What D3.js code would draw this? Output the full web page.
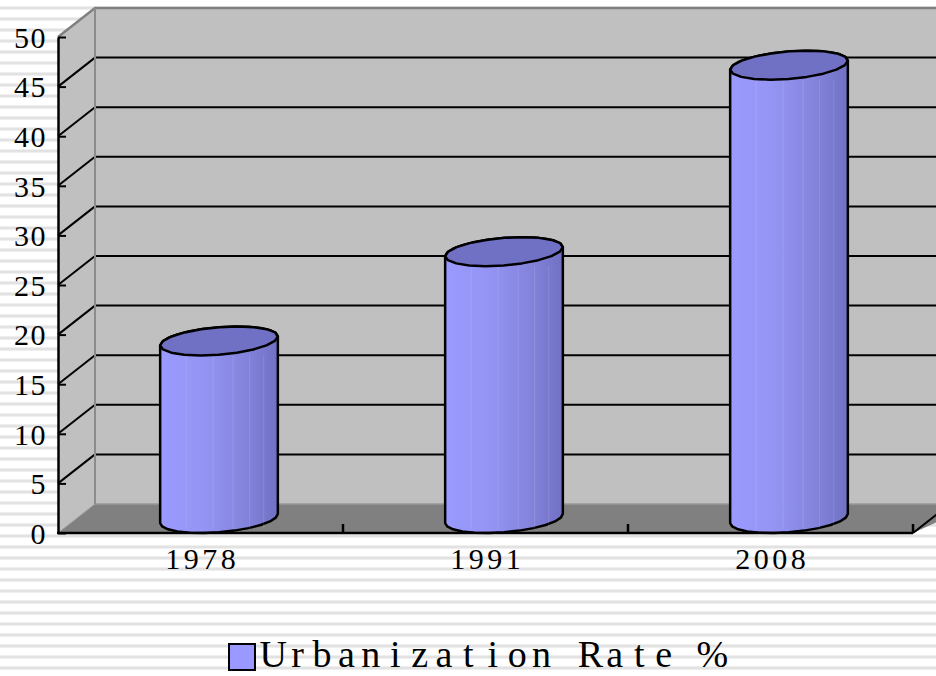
<!DOCTYPE html>
<html>
<head>
<meta charset="utf-8">
<script src="https://cdn.jsdelivr.net/npm/d3@7"></script>
<style>
  html, body { margin: 0; padding: 0; background: #fff; }
  svg { display: block; }
  text { font-family: "Liberation Serif", "DejaVu Serif", serif; fill: #000; }
</style>
</head>
<body>
<div id="chart"></div>
<script>
// chart data
var years = ["1978", "1991", "2008"];
var rates = [17.9, 26.9, 45.7];
var yTicks = [0, 5, 10, 15, 20, 25, 30, 35, 40, 45, 50];
var legendLabel = "Urbanization Rate %";

var svgWidth = 936;
var svgHeight = 676;

// front plane of the 3d box
var front = { left: 58, right: 913, top: 37, bottom: 533 };
// depth offset of the back wall
var depth = { dx: 37, dy: -29 };

var svg = d3.select("#chart")
  .append("svg")
  .attr("width", svgWidth)
  .attr("height", svgHeight);

var defs = svg.append("defs");

// striped page background
var pattern = defs.append("pattern")
  .attr("id", "stripes")
  .attr("patternUnits", "userSpaceOnUse")
  .attr("width", 20)
  .attr("height", 11)
  .attr("y", 6);
pattern.append("rect").attr("width", 20).attr("height", 11).attr("fill", "#ffffff");
pattern.append("rect").attr("y", 0).attr("width", 20).attr("height", 1).attr("fill", "#efefef");
pattern.append("rect").attr("y", 1).attr("width", 20).attr("height", 2).attr("fill", "#e2e2e2");
pattern.append("rect").attr("y", 3).attr("width", 20).attr("height", 1).attr("fill", "#efefef");

svg.append("rect")
  .attr("width", svgWidth)
  .attr("height", svgHeight)
  .attr("fill", "url(#stripes)");

// scales
var yScale = d3.scaleLinear()
  .domain([0, 50])
  .range([front.bottom, front.top]);

var xScale = d3.scaleBand()
  .domain(years)
  .range([front.left, front.right])
  .padding(0);

var g = svg.append("g");

var backLeft = front.left + depth.dx;
var backRight = svgWidth + 40;

// back wall
g.append("polygon")
  .attr("points", [
    [backLeft, yScale(50) + depth.dy],
    [backRight, yScale(50) + depth.dy],
    [backRight, yScale(0) + depth.dy],
    [backLeft, yScale(0) + depth.dy]
  ].join(" "))
  .attr("fill", "#c0c0c0");

// side wall
g.append("polygon")
  .attr("points", [
    [front.left, yScale(50)],
    [backLeft, yScale(50) + depth.dy],
    [backLeft, yScale(0) + depth.dy],
    [front.left, yScale(0)]
  ].join(" "))
  .attr("fill", "#c0c0c0");

// floor
g.append("polygon")
  .attr("points", [
    [front.left, yScale(0)],
    [backLeft, yScale(0) + depth.dy],
    [backRight, yScale(0) + depth.dy],
    [front.right, yScale(0)]
  ].join(" "))
  .attr("fill", "#808080");

// gridlines on back wall and side wall
var gridVals = yTicks.filter(function(d) { return d > 0 && d < 50; });

g.selectAll(".grid-back")
  .data(gridVals)
  .enter()
  .append("line")
  .attr("class", "grid-back")
  .attr("x1", backLeft)
  .attr("x2", backRight)
  .attr("y1", d => yScale(d) + depth.dy)
  .attr("y2", d => yScale(d) + depth.dy)
  .attr("stroke", "#000")
  .attr("stroke-width", 2);

g.selectAll(".grid-side")
  .data(gridVals)
  .enter()
  .append("line")
  .attr("class", "grid-side")
  .attr("x1", front.left)
  .attr("x2", backLeft)
  .attr("y1", d => yScale(d))
  .attr("y2", d => yScale(d) + depth.dy)
  .attr("stroke", "#000")
  .attr("stroke-width", 2);

// wall borders
g.append("path")
  .attr("d", "M" + front.left + "," + yScale(50) +
    "L" + backLeft + "," + (yScale(50) + depth.dy) +
    "L" + backRight + "," + (yScale(50) + depth.dy))
  .attr("fill", "none")
  .attr("stroke", "#808080")
  .attr("stroke-width", 2.5);

g.append("line")
  .attr("x1", backLeft).attr("x2", backLeft)
  .attr("y1", yScale(50) + depth.dy)
  .attr("y2", yScale(0) + depth.dy)
  .attr("stroke", "#8c8c8c")
  .attr("stroke-width", 2);

g.append("line")
  .attr("x1", backLeft).attr("x2", backRight)
  .attr("y1", yScale(0) + depth.dy)
  .attr("y2", yScale(0) + depth.dy)
  .attr("stroke", "#9a9a9a")
  .attr("stroke-width", 1.5);

g.append("line")
  .attr("x1", front.left).attr("x2", backLeft)
  .attr("y1", yScale(0))
  .attr("y2", yScale(0) + depth.dy)
  .attr("stroke", "#9a9a9a")
  .attr("stroke-width", 1);

// floor right edge
g.append("line")
  .attr("x1", front.right).attr("x2", front.right + 40)
  .attr("y1", yScale(0))
  .attr("y2", yScale(0) - 40 * 29 / 37)
  .attr("stroke", "#000")
  .attr("stroke-width", 2);

// cylinders
var halfDx = depth.dx / 2;
var halfDy = -depth.dy / 2;
var radiusX = xScale.bandwidth() * 0.196;
var tTan = Math.atan2(halfDx, radiusX);

function ellPoint(cx, cy, t) {
  return [cx + radiusX * Math.cos(t) + halfDx * Math.sin(t), cy - halfDy * Math.sin(t)];
}

// sampled with few segments, like the faceted original
function arc(cx, cy, t0, t1, n) {
  var pts = [];
  for (var i = 0; i <= n; i++) {
    pts.push(ellPoint(cx, cy, t0 + (t1 - t0) * i / n));
  }
  return pts;
}

var line = d3.line();

var bars = g.selectAll(".bar")
  .data(years.map((y, i) => ({ year: y, value: rates[i] })))
  .enter()
  .append("g")
  .attr("class", "bar");

bars.each(function(d) {
  var cx = xScale(d.year) + xScale.bandwidth() / 2 + halfDx;
  var cyBottom = yScale(0) - halfDy;
  var cyTop = yScale(d.value) - halfDy;
  var R = Math.sqrt(radiusX * radiusX + halfDx * halfDx);
  var sel = d3.select(this);

  // body: back arc of top, left side, front arc of bottom, right side
  var topBack = arc(cx, cyTop, tTan, tTan + Math.PI, 12);
  var bottomFront = arc(cx, cyBottom, tTan + Math.PI, tTan + 2 * Math.PI, 12);
  var body = topBack.concat(bottomFront);

  var gid = "grad-" + d.year;
  var gr = defs.append("linearGradient")
    .attr("id", gid)
    .attr("gradientUnits", "userSpaceOnUse")
    .attr("x1", cx - R).attr("x2", cx + R)
    .attr("y1", 0).attr("y2", 0);
  [[0, "#9a9aff"], [0.35, "#9595f5"], [0.7, "#8585de"], [1, "#7070c4"]].forEach(function(s) {
    gr.append("stop").attr("offset", s[0]).attr("stop-color", s[1]);
  });

  sel.append("path")
    .attr("d", line(body) + "Z")
    .attr("fill", "url(#" + gid + ")")
    .attr("stroke", "#000")
    .attr("stroke-width", 2.5)
    .attr("stroke-linejoin", "round");

  // faint facet lines
  [0.22, 0.45, 0.62, 0.76, 0.88].forEach(function(f) {
    var x = cx - R + 2 * R * f;
    sel.append("line")
      .attr("x1", x).attr("x2", x)
      .attr("y1", cyTop + halfDy)
      .attr("y2", cyBottom + halfDy - 4)
      .attr("stroke", "#ffffff")
      .attr("stroke-opacity", 0.12)
      .attr("stroke-width", 1);
  });

  // top ellipse
  sel.append("path")
    .attr("d", line(arc(cx, cyTop, 0, 2 * Math.PI, 20)) + "Z")
    .attr("fill", "#7070c4")
    .attr("stroke", "#000")
    .attr("stroke-width", 2.5)
    .attr("stroke-linejoin", "round");
});

// y axis (front edge)
var leftAxis = d3.axisLeft(yScale)
  .tickValues(yTicks)
  .tickSizeInner(-8)
  .tickSizeOuter(0)
  .tickPadding(11);

var yAxis = g.append("g")
  .attr("transform", `translate(${front.left}, 0)`)
  .call(leftAxis);

yAxis.select(".domain").attr("stroke", "#000").attr("stroke-width", 2.5);
yAxis.selectAll(".tick line").attr("stroke", "#000").attr("stroke-width", 2);
yAxis.selectAll(".tick text")
  .attr("font-family", "Liberation Serif, serif")
  .attr("font-size", "30px")
  .attr("letter-spacing", "1.5px")
  .attr("dy", "0.34em")
  .attr("fill", "#000");

// x axis (front edge of floor)
g.append("line")
  .attr("x1", front.left - 1).attr("x2", front.right)
  .attr("y1", yScale(0)).attr("y2", yScale(0))
  .attr("stroke", "#000")
  .attr("stroke-width", 2.5);

g.selectAll(".xtick")
  .data(years)
  .enter()
  .append("line")
  .attr("class", "xtick")
  .attr("x1", d => xScale(d) + xScale.bandwidth())
  .attr("x2", d => xScale(d) + xScale.bandwidth())
  .attr("y1", yScale(0))
  .attr("y2", yScale(0) - 9)
  .attr("stroke", "#000")
  .attr("stroke-width", 2.5);

// monospaced look: each character sits in its own cell
function cellXs(str, left, cell) {
  return str.split("").map((c, i) => left + cell * (i + 0.5)).join(" ");
}

g.selectAll(".xlabel")
  .data(years)
  .enter()
  .append("text")
  .attr("class", "xlabel")
  .attr("x", d => cellXs(d, xScale(d) + xScale.bandwidth() / 2 - 2 * 18.5, 18.5))
  .attr("y", 569)
  .attr("text-anchor", "middle")
  .attr("font-size", "30px")
  .text(d => d);

// legend
var legend = svg.append("g");
legend.append("rect")
  .attr("x", 229)
  .attr("y", 644)
  .attr("width", 26)
  .attr("height", 26)
  .attr("fill", "#9999ff")
  .attr("stroke", "#000")
  .attr("stroke-width", 2);
legend.append("text")
  .attr("x", cellXs(legendLabel, 261, 24.4))
  .attr("y", 667)
  .attr("text-anchor", "middle")
  .attr("font-size", "38px")
  .text(legendLabel);
</script>
</body>
</html>
